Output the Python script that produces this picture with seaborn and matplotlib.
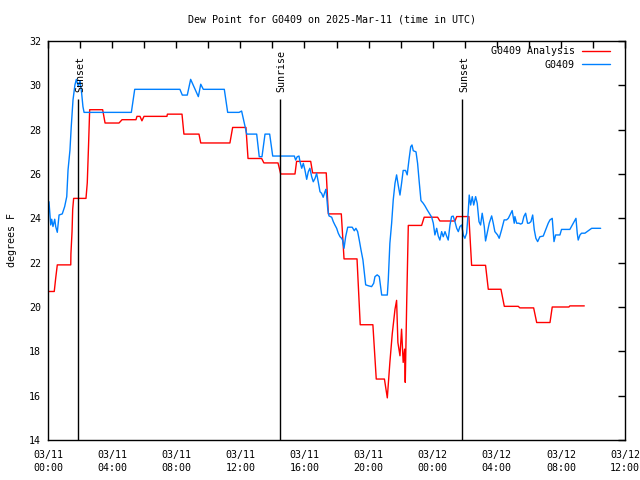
import matplotlib
matplotlib.use("Agg")
import matplotlib.pyplot as plt
from matplotlib.ticker import MultipleLocator
import seaborn as sns
import pandas as pd

# ---- data (hours since 2025-03-11 00:00 UTC, dew point in F) ----
analysis_hours = [0.04, 0.39, 0.48, 0.58, 1.42, 1.43, 1.50, 1.54, 1.60, 2.37, 2.45, 2.53, 2.60,
                  3.41, 3.56, 4.43, 4.62, 5.49, 5.55, 5.74, 5.86, 5.99, 7.42, 7.45, 8.36, 8.48,
                  9.42, 9.53, 11.35, 11.52, 12.35, 12.48, 13.33, 13.47, 14.35, 14.52, 15.41,
                  15.51, 16.39, 16.51, 17.36, 17.49, 18.30, 18.47, 19.28, 19.48, 20.27, 20.48,
                  20.99, 21.17, 21.33, 21.48, 21.65, 21.75, 21.83, 21.96, 22.06, 22.16, 22.25,
                  22.29, 22.38, 22.48, 23.31, 23.47, 24.31, 24.45, 25.39, 25.50, 26.26, 26.43,
                  27.30, 27.47, 28.26, 28.47, 29.34, 29.44, 30.30, 30.49, 31.32, 31.46, 32.50,
                  32.56, 33.46]
analysis_vals = [20.7, 20.7, 21.3, 21.9, 21.9, 22.4, 23.4, 24.4, 24.9, 24.9, 25.6, 27.3, 28.9,
                 28.9, 28.3, 28.3, 28.45, 28.45, 28.6, 28.6, 28.4, 28.6, 28.6, 28.7, 28.7, 27.8,
                 27.8, 27.4, 27.4, 28.1, 28.1, 26.7, 26.7, 26.5, 26.5, 26.0, 26.0,
                 26.57, 26.57, 26.05, 26.05, 24.2, 24.2, 22.17, 22.17, 19.2, 19.2, 16.75,
                 16.75, 15.9, 17.5, 18.8, 19.9, 20.3, 18.4, 17.8, 19.0, 17.5, 18.1,
                 16.6, 20.2, 23.68, 23.68, 24.05, 24.05, 23.88, 23.88, 24.08, 24.08, 21.88,
                 21.88, 20.8, 20.8, 20.03, 20.03, 19.96, 19.96, 19.3, 19.3, 20.0, 20.0,
                 20.05, 20.05]

obs_hours = [0.06, 0.17, 0.23, 0.31, 0.42, 0.48, 0.58, 0.69, 0.89, 1.04, 1.17, 1.25, 1.37, 1.45,
             1.56, 1.68, 1.77, 1.89, 2.00, 2.10, 2.18, 2.25, 5.20, 5.41, 8.23, 8.38, 8.69, 8.90,
             9.38, 9.53, 9.69, 11.00, 11.21, 11.92, 12.08, 12.40, 13.02, 13.18, 13.35, 13.54,
             13.83, 14.02, 15.37, 15.45, 15.55, 15.66, 15.72, 15.83, 15.93, 16.03, 16.14, 16.24,
             16.34, 16.45, 16.55, 16.66, 16.76, 16.86, 16.97, 17.07, 17.17, 17.28, 17.34, 17.39,
             17.45, 17.53, 17.70, 17.80, 17.90, 18.01, 18.11, 18.22, 18.32, 18.38, 18.47, 18.57,
             18.70, 18.98, 19.11, 19.21, 19.32, 19.42, 19.53, 19.65, 19.73, 19.82, 19.98, 20.19,
             20.32, 20.40, 20.54, 20.67, 20.75, 20.82, 21.17, 21.23, 21.33, 21.44, 21.54, 21.65,
             21.75, 21.85, 21.96, 22.06, 22.16, 22.31, 22.41, 22.52, 22.63, 22.71, 22.79, 22.96,
             23.06, 23.16, 23.27, 23.41, 23.52, 23.66, 23.79, 23.94, 24.04, 24.14, 24.25, 24.35,
             24.45, 24.56, 24.66, 24.77, 24.87, 24.97, 25.08, 25.18, 25.28, 25.39, 25.50, 25.60,
             25.70, 25.81, 25.91, 26.01, 26.12, 26.22, 26.28, 26.37, 26.47, 26.56, 26.68, 26.78,
             26.89, 26.99, 27.09, 27.22, 27.30, 27.40, 27.53, 27.68, 27.78, 27.88, 28.05, 28.15,
             28.30, 28.46, 28.61, 28.72, 28.88, 28.96, 29.09, 29.13, 29.24, 29.38, 29.49, 29.59,
             29.69, 29.80, 29.92, 30.01, 30.13, 30.24, 30.34, 30.44, 30.55, 30.69, 30.90, 31.05,
             31.21, 31.32, 31.46, 31.57, 31.67, 31.94, 32.04, 32.56, 32.71, 32.83, 32.94, 33.02,
             33.08, 33.19, 33.29, 33.50, 33.71, 33.92, 34.48]
obs_vals = [24.75, 23.7, 23.96, 23.63, 23.96, 23.63, 23.37, 24.15, 24.2, 24.53, 24.98, 26.18, 27.08,
            28.13, 29.34, 30.02, 30.27, 29.94, 30.21, 29.64, 29.04, 28.78, 28.78, 29.82, 29.82,
            29.56, 29.56, 30.27, 29.49, 30.05, 29.82, 29.82, 28.78, 28.78, 28.84, 27.8, 27.8,
            26.78, 26.78, 27.8, 27.8, 26.81, 26.81, 26.63, 26.78, 26.81, 26.56, 26.26, 26.48,
            26.18, 25.76, 26.1, 26.26, 25.88, 25.65, 25.8, 26.03, 25.65, 25.2, 25.13, 24.95, 25.2,
            25.31, 24.98, 24.45, 24.11, 24.05, 23.85, 23.7, 23.55, 23.33, 23.17, 23.1, 23.02,
            22.65, 23.17, 23.6, 23.6, 23.44, 23.55, 23.4, 23.02, 22.57, 22.12, 21.59, 21.0, 20.96,
            20.92, 21.07, 21.37, 21.45, 21.37, 20.92, 20.54, 20.54, 21.22, 22.87, 23.78, 24.83,
            25.58, 25.96, 25.5, 25.05, 25.58, 26.16, 26.16, 25.96, 26.63, 27.23, 27.31, 27.05,
            27.0, 26.48, 25.65, 24.8, 24.68, 24.56, 24.38, 24.23, 24.05, 23.78, 23.25, 23.55,
            23.2, 23.02, 23.4, 23.17, 23.4, 23.2, 23.02, 23.7, 24.08, 24.1, 23.85, 23.55, 23.4,
            23.63, 23.7, 23.25, 23.1, 23.33, 24.3, 25.05, 24.6, 24.98, 24.6, 24.98, 24.68, 23.85,
            23.7, 24.23, 23.63, 22.98, 23.33, 23.78, 24.11, 23.78, 23.4, 23.25, 23.1, 23.48,
            23.93, 23.93, 24.0, 24.23, 24.35, 23.78, 24.08, 23.78, 23.78, 23.74, 23.78, 24.08,
            24.23, 23.78, 23.78, 23.85, 24.15, 23.48, 23.1, 22.95, 23.17, 23.2, 23.48, 23.78,
            23.93, 24.0, 22.95, 23.25, 23.25, 23.5, 23.5, 23.7, 23.85, 24.0, 23.33, 23.02, 23.25,
            23.33, 23.33, 23.44, 23.55, 23.55]

series_names = ["G0409 Analysis", "G0409"]
series_colors = ["#ff0000", "#0080ff"]

sun_hours = [1.87, 14.47, 25.83]
sun_labels = ["Sunset", "Sunrise", "Sunset"]

xtick_hours = [0, 4, 8, 12, 16, 20, 24, 28, 32, 36]
xtick_labels = ["03/11\n00:00", "03/11\n04:00", "03/11\n08:00", "03/11\n12:00", "03/11\n16:00",
                "03/11\n20:00", "03/12\n00:00", "03/12\n04:00", "03/12\n08:00", "03/12\n12:00"]
yticks = [14, 16, 18, 20, 22, 24, 26, 28, 30, 32]

title = "Dew Point for G0409 on 2025-Mar-11 (time in UTC)"
ylabel = "degrees F"

# ---- build long-form table ----
df = pd.concat([
    pd.DataFrame({"hour": analysis_hours, "value": analysis_vals, "series": series_names[0]}),
    pd.DataFrame({"hour": obs_hours, "value": obs_vals, "series": series_names[1]}),
], ignore_index=True)

sns.set_theme(style="white")
plt.rcParams["font.family"] = ["DejaVu Sans Mono", "DejaVu Sans"]
FS = 7.2

fig = plt.figure(figsize=(6.4, 4.8), dpi=100)
ax = fig.add_axes([48 / 640, 1 - 440 / 480, (625 - 48) / 640, (440 - 41) / 480])

sns.lineplot(data=df, x="hour", y="value", hue="series", hue_order=series_names,
             palette=dict(zip(series_names, series_colors)), estimator=None, sort=False,
             linewidth=1.0, ax=ax)

ymin, ymax = 14, 32
for h, lab in zip(sun_hours, sun_labels):
    ax.vlines(h, ymin, 29.4, color="black", linewidth=1.0, zorder=3)
    ax.text(h + 0.12, 29.72, lab, rotation=90, ha="center", va="bottom",
            fontsize=FS, color="black")

ax.set_xlim(0, 36)
ax.set_ylim(ymin, ymax)
ax.set_xticks(xtick_hours)
ax.set_xticklabels(xtick_labels, fontsize=FS, linespacing=1.35)
ax.xaxis.set_minor_locator(MultipleLocator(2))
ax.set_yticks(yticks)
ax.set_yticklabels([str(v) for v in yticks], fontsize=FS)
ax.tick_params(which="both", direction="in", top=True, right=True, length=5, width=1,
               color="black", labelcolor="black")
ax.tick_params(axis="x", which="major", pad=7)
ax.tick_params(axis="y", which="major", pad=5)
for s in ax.spines.values():
    s.set_color("black")
    s.set_linewidth(1.0)
    s.set_visible(True)

ax.set_xlabel("")
ax.set_ylabel(ylabel, fontsize=FS, color="black", labelpad=9)
fig.text(332 / 640, 1 - 19 / 480, title, ha="center", va="center", fontsize=FS, color="black")

leg = ax.legend(loc="upper right", bbox_to_anchor=(0.974, 0.987), markerfirst=False,
                frameon=False, fontsize=FS, handlelength=2.8, handletextpad=0.7,
                borderaxespad=0.0, borderpad=0.0, labelspacing=0.35)
for t in leg.get_texts():
    t.set_color("black")
for h in leg.get_lines():
    h.set_linewidth(1.0)

fig.savefig("out.png", dpi=100, facecolor="white")
